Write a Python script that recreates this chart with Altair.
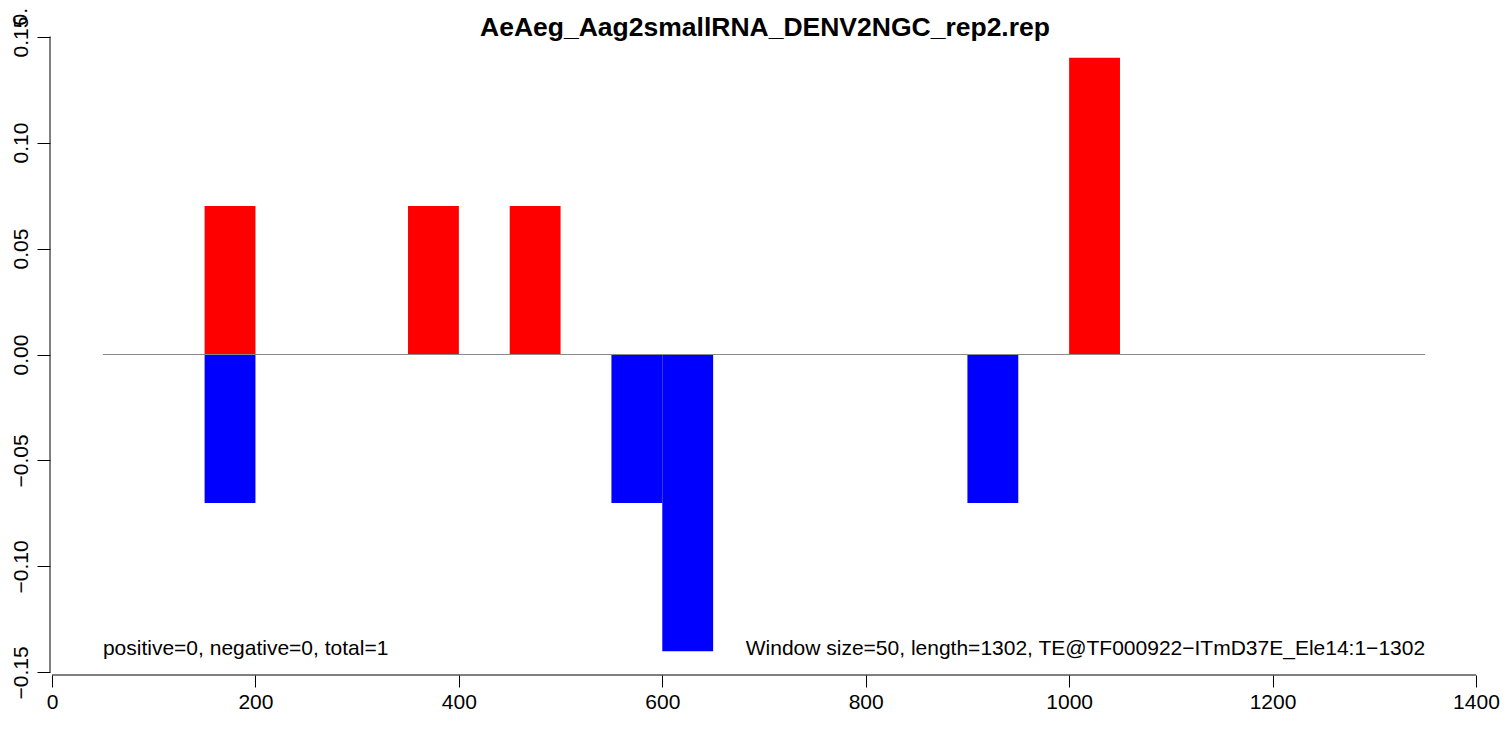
import altair as alt
import pandas as pd

# ---- data ----
title_text = "AeAeg_Aag2smallRNA_DENV2NGC_rep2.rep"
window = 50
pos_start = [150, 350, 450, 1000]
pos_value = [0.07, 0.07, 0.07, 0.14]
neg_start = [150, 550, 600, 900]
neg_value = [-0.07, -0.07, -0.14, -0.07]
zero_line = [50, 1350]
x_ticks = [0, 200, 400, 600, 800, 1000, 1200, 1400]
y_ticks = [-0.15, -0.10, -0.05, 0.00, 0.05, 0.10, 0.15]
left_note = "positive=0, negative=0, total=1"
right_note = "Window size=50, length=1302, TE@TF000922\u2212ITmD37E_Ele14:1\u22121302"
note_y = -0.142

FONT = "Liberation Sans"
W, H = 1428, 641
PAD = {"left": 42, "top": 26, "right": 23, "bottom": 40}
XDOM = [-2, 1402]
YDOM = [-0.1512, 0.1512]

bars = pd.DataFrame(
    [{"start": s, "end": s + window, "value": v, "strand": "pos"} for s, v in zip(pos_start, pos_value)]
    + [{"start": s, "end": s + window, "value": v, "strand": "neg"} for s, v in zip(neg_start, neg_value)]
)
bars["zero"] = 0.0

xs = alt.Scale(domain=XDOM, nice=False, zero=False)
ys = alt.Scale(domain=YDOM, nice=False, zero=False)

xaxis = alt.Axis(values=x_ticks, format="d", title=None, grid=False, domain=False,
                 tickSize=12, tickColor="black", tickWidth=1,
                 labelFont=FONT, labelFontSize=21, labelColor="black", labelPadding=21,
                 labelBaseline="alphabetic",
                 labelFlush=False, labelOverlap=False)
yaxis = alt.Axis(values=y_ticks, format=".2f", title=None, grid=False, domain=False,
                 tickSize=13, tickColor="black", tickWidth=1,
                 labelFont=FONT, labelFontSize=21, labelColor="black", labelPadding=10,
                 labelAngle=270, labelAlign="center", labelBaseline="alphabetic",
                 labelFlush=False, labelOverlap=False)

bar_layer = alt.Chart(bars).mark_rect(strokeWidth=0).encode(
    x=alt.X("start:Q", scale=xs, axis=xaxis),
    x2="end:Q",
    y=alt.Y("zero:Q", scale=ys, axis=yaxis),
    y2="value:Q",
    color=alt.Color("strand:N", scale=alt.Scale(domain=["pos", "neg"], range=["#FF0000", "#0000FF"]), legend=None),
)

zl = pd.DataFrame({"x": [zero_line[0]], "x2": [zero_line[1]], "y": [0.0]})
zero_layer = alt.Chart(zl).mark_rule(color="#8a8a8a", strokeWidth=1.2).encode(
    x=alt.X("x:Q", scale=xs), x2="x2:Q", y=alt.Y("y:Q", scale=ys)
)

ax = pd.DataFrame({"x": [x_ticks[0]], "x2": [x_ticks[-1]], "y": [y_ticks[0]], "y2": [y_ticks[-1]]})
xline = alt.Chart(ax).mark_rule(color="black", strokeWidth=1).encode(
    x=alt.X("x:Q", scale=xs), x2="x2:Q", y=alt.value(H)
)
yline = alt.Chart(ax).mark_rule(color="black", strokeWidth=1).encode(
    y=alt.Y("y:Q", scale=ys), y2="y2:Q", x=alt.value(0)
)

notes = pd.DataFrame({"x": [zero_line[0], zero_line[1]], "y": [note_y, note_y],
                      "t": [left_note, right_note]})
left_layer = alt.Chart(notes.iloc[[0]]).mark_text(
    align="left", baseline="alphabetic", font=FONT, fontSize=21, color="black"
).encode(x=alt.X("x:Q", scale=xs), y=alt.Y("y:Q", scale=ys), text="t:N")
right_layer = alt.Chart(notes.iloc[[1]]).mark_text(
    align="right", baseline="alphabetic", font=FONT, fontSize=21, color="black"
).encode(x=alt.X("x:Q", scale=xs), y=alt.Y("y:Q", scale=ys), text="t:N")

title_layer = alt.Chart(pd.DataFrame({"t": [title_text]})).mark_text(
    align="center", baseline="alphabetic", font=FONT, fontSize=26.5, fontWeight="bold", color="black"
).encode(x=alt.value(W / 2 + 1), y=alt.value(2), text="t:N")

# stray axis fragment at the very top-left of the reference
frag = pd.DataFrame({"t": ["0.15"]})
frag_t = alt.Chart(frag).mark_rule(color="black").encode(x=alt.value(-13), x2=alt.value(0), y=alt.value(-29))
frag_l = alt.Chart(frag).mark_text(angle=270, align="center", baseline="alphabetic", font=FONT,
                                   fontSize=21, color="black").encode(
    x=alt.value(-23), y=alt.value(-29), text="t:N")

chart = alt.layer(
    bar_layer, zero_layer, xline, yline, left_layer, right_layer, title_layer, frag_t, frag_l
).properties(
    width=W, height=H,
    padding=PAD,
    autosize=alt.AutoSizeParams(type="none"),
    background="white",
).configure_view(stroke=None)

chart.save("out.html", embed_options={"renderer": "svg", "actions": False})
